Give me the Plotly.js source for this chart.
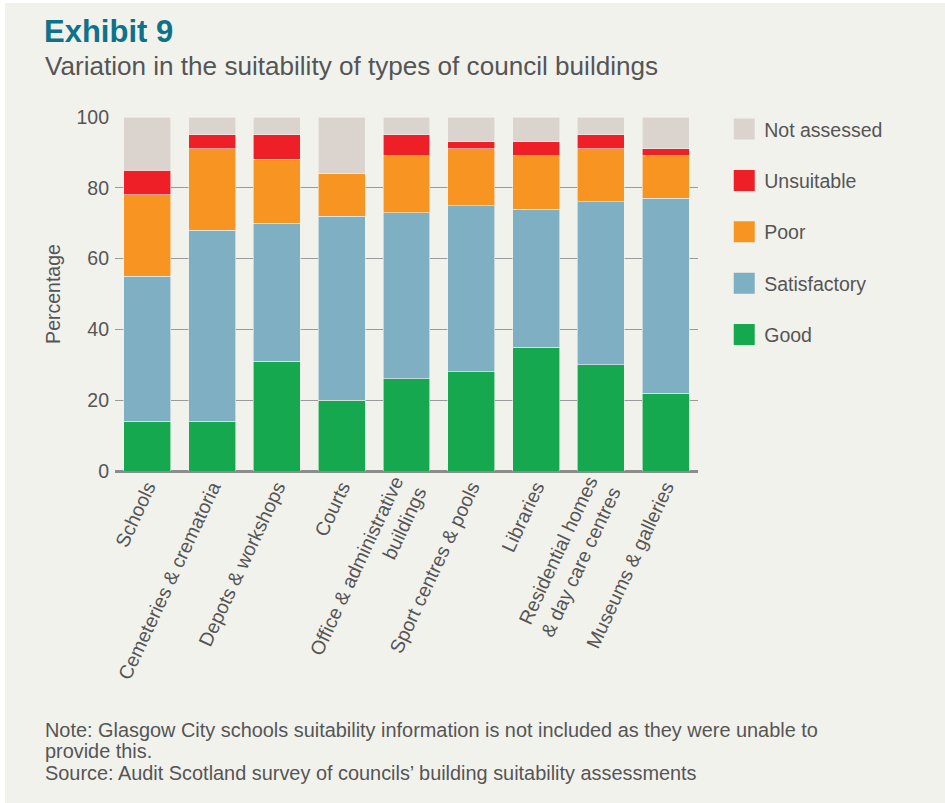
<!DOCTYPE html>
<html>
<head>
<meta charset="utf-8">
<script src="https://cdn.plot.ly/plotly-3.0.1.min.js"></script>
<style>
html,body{margin:0;padding:0;background:#ffffff;overflow:hidden;}
#chart{position:absolute;left:5px;top:3px;width:940px;height:800px;}
</style>
</head>
<body>
<div id="chart"></div>
<script>
const categories = [
  "Schools",
  "Cemeteries & crematoria",
  "Depots & workshops",
  "Courts",
  "Office & administrative<br>buildings",
  "Sport centres & pools",
  "Libraries",
  "Residential homes<br>& day care centres",
  "Museums & galleries"
];
const good         = [14, 14, 31, 20, 26, 28, 35, 30, 22];
const satisfactory = [41, 54, 39, 52, 47, 47, 39, 46, 55];
const poor         = [23, 23, 18, 12, 16, 16, 15, 15, 12];
const unsuitable   = [ 7,  4,  7,  0,  6,  2,  4,  4,  2];
const notAssessed  = [15,  5,  5, 16,  5,  7,  7,  5,  9];
const yTicks = [0, 20, 40, 60, 80, 100];
const footnoteLines = [
  "Note: Glasgow City schools suitability information is not included as they were unable to",
  "provide this.",
  "Source: Audit Scotland survey of councils\u2019 building suitability assessments"
];

const seriesNames  = ["Good", "Satisfactory", "Poor", "Unsuitable", "Not assessed"];
const seriesValues = [good, satisfactory, poor, unsuitable, notAssessed];
const seriesColors = ["#16a84f", "#7eafc2", "#f79422", "#ee1f27", "#dbd4ce"];
const bg = "#f2f2ed";

const traces = [];
seriesNames.forEach((n, i) => {
  traces.push({
    type: "bar",
    name: n,
    x: categories,
    y: seriesValues[i],
    marker: {color: seriesColors[i], line: {color: bg, width: 0.6}},
    showlegend: false,
    hoverinfo: "x+y+name"
  });
});
for (let i = seriesNames.length - 1; i >= 0; i--) {
  traces.push({
    type: "scatter",
    mode: "markers",
    name: seriesNames[i],
    x: [null], y: [null],
    legendgroup: "g" + i,
    marker: {symbol: "square", size: 16, color: seriesColors[i], line: {color: seriesColors[i], width: 6}},
    showlegend: true,
    hoverinfo: "skip"
  });
}

const txt = "#555555";
const font = "Liberation Sans, Arial, sans-serif";
const footY = [730, 751, 773];
const annotations = [
  {
    text: "Variation in the suitability of types of council buildings",
    xref: "paper", yref: "paper",
    x: -72/583, xanchor: "left",
    y: (468 - 63)/354, yanchor: "middle",
    showarrow: false,
    font: {size: 26.1, color: txt}
  }
];
footnoteLines.forEach((t, i) => {
  annotations.push({
    text: t,
    xref: "paper", yref: "paper",
    x: -72/583, xanchor: "left",
    y: (468 - (footY[i] - 3))/354, yanchor: "middle",
    align: "left",
    showarrow: false,
    font: {size: 19.9, color: txt}
  });
});

const layout = {
  width: 940, height: 800,
  paper_bgcolor: bg, plot_bgcolor: bg,
  margin: {l: 110, r: 247, t: 114, b: 332},
  barmode: "stack",
  bargap: 0.275,
  font: {family: font, color: txt, size: 16},
  title: {
    text: "<b>Exhibit 9</b>",
    font: {family: "Liberation Sans Narrow, Liberation Sans, Arial, sans-serif", size: 31, color: "#0f718a"},
    xref: "container", yref: "container",
    x: 39/940, xanchor: "left",
    y: 1 - 28/800, yanchor: "middle"
  },
  xaxis: {
    type: "category",
    tickangle: -65,
    tickfont: {size: 19.5, color: txt},
    showgrid: false,
    showline: false,
    ticks: "",
    fixedrange: true
  },
  yaxis: {
    range: [0, 100],
    tickvals: yTicks,
    ticktext: yTicks.map(String),
    tickfont: {size: 19.5, color: txt},
    gridcolor: "#9a9a9a",
    gridwidth: 1,
    zeroline: true,
    zerolinecolor: "#8c8c8c",
    zerolinewidth: 2.5,
    showline: false,
    ticks: "",
    ticklabelstandoff: 5,
    title: {text: "Percentage", font: {size: 19.5, color: txt}, standoff: 10},
    fixedrange: true
  },
  legend: {
    x: 1.045, xanchor: "left",
    y: 1.02, yanchor: "top",
    bgcolor: "rgba(0,0,0,0)",
    font: {size: 19.5, color: txt},
    traceorder: "grouped",
    tracegroupgap: 23,
    itemclick: false, itemdoubleclick: false
  },
  annotations: annotations
};

Plotly.newPlot("chart", traces, layout, {displayModeBar: false});
</script>
</body>
</html>
